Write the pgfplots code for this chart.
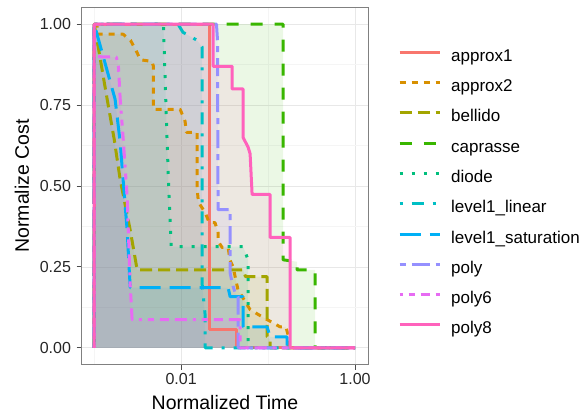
\documentclass[border=0pt]{standalone}
\usepackage{pgfplots}
\pgfplotsset{compat=1.18}
\usepackage{pgfplotstable}
\usepackage{fontspec}
\setmainfont{Liberation Sans}
\definecolor{cA}{HTML}{F8766D}
\definecolor{cB}{HTML}{D89000}
\definecolor{cC}{HTML}{A3A500}
\definecolor{cD}{HTML}{39B600}
\definecolor{cE}{HTML}{00BF7D}
\definecolor{cF}{HTML}{00BFC4}
\definecolor{cG}{HTML}{00B0F6}
\definecolor{cH}{HTML}{9590FF}
\definecolor{cI}{HTML}{E76BF3}
\definecolor{cJ}{HTML}{FF62BC}

% approx1
\pgfplotstableread{
x y
0.001 0
0.001 1
0.02098 1
0.02098 0.056
0.04287 0.056
0.04287 0
1 0
}\dA
% approx2
\pgfplotstableread{
x y
0.001 0
0.001 1
0.00108 1
0.00108 0.969
0.00215 0.969
0.00262 0.95
0.0031 0.913
0.0034 0.89
0.0046 0.885
0.0048 0.87
0.0048 0.737
0.00974 0.737
0.0111 0.70
0.0115 0.666
0.0153 0.666
0.0153 0.49
0.0158 0.45
0.0189 0.418
0.021 0.387
0.0245 0.387
0.0266 0.356
0.0266 0.33
0.0296 0.31
0.0347 0.31
0.0366 0.27
0.0396 0.25
0.0418 0.22
0.045 0.18
0.0621 0.118
0.0853 0.096
0.137 0.065
0.16 0.065
0.17 0.04
0.17 0
1 0
}\dB
% bellido
\pgfplotstableread{
x y
0.001 0
0.001 1
0.00108 0.95
0.00141 0.768
0.0017 0.644
0.00199 0.52
0.00259 0.365
0.00312 0.241
0.0516 0.241
0.055 0.22
0.0974 0.22
0.0974 0.035
0.1054 0.025
0.1054 0
1 0
}\dC
% caprasse
\pgfplotstableread{
x y
0.001 0
0.001 1
0.1487 1
0.1487 0.272
0.2154 0.266
0.2154 0.241
0.347 0.241
0.347 0
1 0
}\dD
% diode
\pgfplotstableread{
x y
0.001 0
0.001 1
0.0063 1
0.0063 0.975
0.0067 0.74
0.0072 0.49
0.0077 0.313
0.0516 0.313
0.0589 0.272
0.0589 0
1 0
}\dE
% level1_linear
\pgfplotstableread{
x y
0.001 0
0.001 1
0.0092 1
0.0105 0.975
0.0153 0.95
0.0174 0.93
0.0174 0.2
0.0189 0.1
0.0189 0
1 0
}\dF
% level1_saturation
\pgfplotstableread{
x y
0.001 0
0.001 1
0.00105 0.98
0.00174 0.768
0.00199 0.635
0.00215 0.52
0.00239 0.365
0.00259 0.19
0.0026 0.186
0.0347 0.186
0.0366 0.158
0.0516 0.158
0.0516 0.065
0.0974 0.065
0.1054 0.034
0.1653 0.034
0.1653 0
1 0
}\dG
% poly
\pgfplotstableread{
x y
0.001 0
0.001 1
0.0255 1
0.0262 0.95
0.0266 0.427
0.0366 0.427
0.0366 0.232
0.0386 0.2
0.0418 0.17
0.0452 0.158
0.0452 0
1 0
}\dH
% poly6
\pgfplotstableread{
x y
0.001 0
0.001 1
0.001 0.9
0.0018 0.898
0.0019 0.87
0.00199 0.77
0.00215 0.65
0.00239 0.47
0.0026 0.19
0.00273 0.087
0.0477 0.087
0.0477 0
1 0
}\dI
% poly8
\pgfplotstableread{
x y
0.001 0
0.001 1
0.0233 1
0.0233 0.87
0.0386 0.87
0.0386 0.8
0.0516 0.8
0.0516 0.65
0.0589 0.62
0.0621 0.6
0.0655 0.474
0.1054 0.474
0.1054 0.341
0.179 0.341
0.179 0
1 0
}\dJ

\begin{document}
\begin{tikzpicture}
\useasboundingbox (-82pt,-49pt) rectangle (505pt,364pt);
\begin{axis}[
  scale only axis, width=286pt, height=356pt,
  xmode=log, xmin=0.000724, xmax=1.41, ymin=-0.05, ymax=1.05,
  xtick={0.01,1}, xticklabels={0.01,1.00},
  ytick={0,0.25,0.5,0.75,1}, yticklabels={0.00,0.25,0.50,0.75,1.00},
  minor xtick={0.001,0.1}, minor ytick={0.125,0.375,0.625,0.875},
  grid=both,
  major grid style={color=black!9, line width=0.8pt},
  minor grid style={color=black!4, line width=0.8pt},
  axis line style={color=black!50, line width=1pt},
  tick style={color=black!70, line width=1pt},
  tick align=outside, major tick length=5.5pt, minor tick length=0pt,
  xtick pos=lower, ytick pos=left,
  tick label style={font=\fontsize{16}{19}\selectfont, text=black!85},
  yticklabel style={xshift=-2pt},
  xlabel={Normalized Time}, ylabel={Normalize Cost},
  label style={font=\fontsize{19.5}{23}\selectfont},
  xlabel style={at={(axis description cs:0.5,-0.1292)}, anchor=base},
  ylabel style={at={(axis description cs:-0.1853,0.5)}, anchor=base},
  legend style={at={(axis description cs:1,1)}, anchor=north west, xshift=30pt, yshift=-41pt,
    draw=none, fill=none, font=\fontsize{17}{20}\selectfont, row sep=15.3pt, column sep=10pt,
    inner sep=0pt, nodes={inner sep=0pt, text height=12pt, text depth=3pt}},
  legend cell align=left,
  legend image code/.code={\draw[#1, line width=3pt] (0pt,4.5pt) -- (40pt,4.5pt);},
  legend entries={approx1,approx2,bellido,caprasse,diode,level1\_linear,level1\_saturation,poly,poly6,poly8},
]
% fills
\addplot[draw=none, fill=cA, fill opacity=0.1, forget plot] table {\dA};
\addplot[draw=none, fill=cB, fill opacity=0.1, forget plot] table {\dB};
\addplot[draw=none, fill=cC, fill opacity=0.1, forget plot] table {\dC};
\addplot[draw=none, fill=cD, fill opacity=0.1, forget plot] table {\dD};
\addplot[draw=none, fill=cE, fill opacity=0.1, forget plot] table {\dE};
\addplot[draw=none, fill=cF, fill opacity=0.1, forget plot] table {\dF};
\addplot[draw=none, fill=cG, fill opacity=0.1, forget plot] table {\dG};
\addplot[draw=none, fill=cH, fill opacity=0.1, forget plot] table {\dH};
\addplot[draw=none, fill=cI, fill opacity=0.1, forget plot] table {\dI};
\addplot[draw=none, fill=cJ, fill opacity=0.1, forget plot] table {\dJ};
% lines
\addplot[cA, line width=3pt, line join=round, no marks] table {\dA};
\addplot[cB, line width=3pt, line join=round, no marks, dash pattern=on 6pt off 6pt] table {\dB};
\addplot[cC, line width=3pt, line join=round, no marks, dash pattern=on 12pt off 6pt] table {\dC};
\addplot[cD, line width=3pt, line join=round, no marks, dash pattern=on 12pt off 12pt] table {\dD};
\addplot[cE, line width=3pt, line join=round, no marks, dash pattern=on 3pt off 9pt] table {\dE};
\addplot[cF, line width=3pt, line join=round, no marks, dash pattern=on 3pt off 9pt on 12pt off 9pt] table {\dF};
\addplot[cG, line width=3pt, line join=round, no marks, dash pattern=on 21pt off 9pt] table {\dG};
\addplot[cH, line width=3pt, line join=round, no marks, dash pattern=on 6pt off 6pt on 18pt off 6pt] table {\dH};
\addplot[cI, line width=3pt, line join=round, no marks, dash pattern=on 3pt off 6pt on 6pt off 6pt on 9pt off 6pt on 12pt off 6pt] table {\dI};
\addplot[cJ, line width=3pt, line join=round, no marks] table {\dJ};
\end{axis}
\end{tikzpicture}
\end{document}
